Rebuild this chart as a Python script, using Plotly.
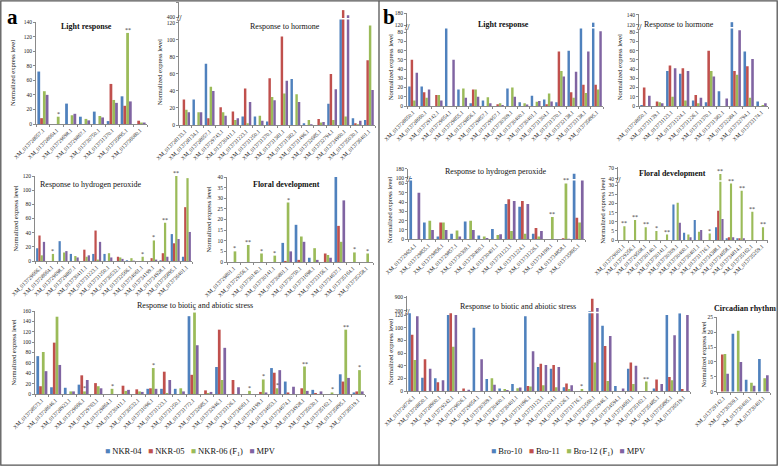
import plotly.graph_objects as go

W, H = 778, 466
def PX(x): return x / W
def PY(y): return 1 - y / H

FONT = "Liberation Serif"
COLORS = ["#4F81BD", "#C0504D", "#9BBB59", "#8064A2"]
A_NAMES = ["NKR-04", "NKR-05", "NKR-06 (F<sub>1</sub>)", "MPV"]
B_NAMES = ["Bro-10", "Bro-11", "Bro-12 (F<sub>1</sub>)", "MPV"]
YTITLE = "Normalized express level"

# ---------------- panel a ----------------
A_LIGHT_GENES = ["XM_013728657.1", "XM_013728664.1", "XM_013729698.1", "XM_013729867.1",
                 "XM_013730750.1", "XM_013731370.1", "XM_013735895.1", "XM_013736080.1"]
A_LIGHT_NKR04 = [72, 0, 28, 10, 17, 4, 38, 0]
A_LIGHT_NKR05 = [8, 0, 0, 0, 0, 55, 25, 4.5]
A_LIGHT_NKR06 = [45, 10, 12, 7, 11, 33, 125, 2]
A_LIGHT_MPV = [40, 0, 14, 5, 9, 29, 31, 2]
A_LIGHT_SIG = ["", "*", "", "", "", "", "**", ""]

A_HORM_GENES = ["XM_013728133.1", "XM_013728134.1", "XM_013728657.1", "XM_013729743.1",
                "XM_013730411.1", "XM_013731223.1", "XM_013731250.1", "XM_013731370.1",
                "XM_013731381.1", "XM_013731382.1", "XM_013731496.1", "XM_013732685.1",
                "XM_013732794.1", "XM_013734960.1", "XM_013735030.1", "XM_013736401.1"]
A_HORM_NKR04 = [0, 30, 72, 0, 0, 10, 10, 4, 0, 54, 2, 0, 25, 130, 8, 6]
A_HORM_NKR05 = [30, 0, 8, 21, 16, 43, 0, 55, 104, 0, 0, 7, 60, 950, 2, 76]
A_HORM_NKR06 = [18, 15, 45, 15, 6, 2, 11, 33, 37, 36, 6, 3, 6, 10, 1, 117]
A_HORM_MPV = [15, 15, 40, 11, 8, 27, 5, 29, 52, 27, 1, 3.5, 42, 540, 5, 41]
A_HORM_SIG = [""] * 16

A_H2O2_GENES = ["XM_013729666.1", "XM_013728664.1", "XM_013729698.1", "XM_013729867.1",
                "XM_013730411.1", "XM_013731223.1", "XM_013731250.1", "XM_013730532.1",
                "XM_013732566.1", "XM_013734061.1", "XM_013734199.1", "XM_013734928.1",
                "XM_013735895.1", "XM_013736401.1"]
A_H2O2_NKR04 = [18, 0, 28, 10, 0, 10, 10, 0, 1, 0, 0, 1, 38, 6]
A_H2O2_NKR05 = [36, 0, 0, 0, 16, 43, 0, 6, 0, 0, 4, 11, 25, 76]
A_H2O2_NKR06 = [8, 10, 12, 7, 6, 2, 11, 5, 4, 6, 29, 54, 120, 117]
A_H2O2_MPV = [27, 0, 14, 5, 8, 27, 5, 3, 0.5, 0, 2, 6, 31, 41]
A_H2O2_SIG = ["", "*", "", "", "", "", "", "", "", "*", "*", "**", "**", ""]

A_FLOR_GENES = ["XM_013729801.1", "XM_013729256.1", "XM_013730140.1", "XM_013730141.1",
                "XM_013730801.1", "XM_013730750.1", "XM_013731698.1", "XM_013733156.1",
                "XM_013734637.1", "XM_013735164.1", "XM_013735258.1"]
A_FLOR_NKR04 = [0, 0, 0, 0, 9, 17.5, 2, 0, 40, 0, 0]
A_FLOR_NKR05 = [0, 0, 0, 0, 0.5, 1, 0, 4, 17, 0, 0]
A_FLOR_NKR06 = [5, 8, 4, 3, 28, 12, 6.5, 3.3, 9.5, 4.5, 4]
A_FLOR_MPV = [0, 0, 0, 0, 5, 9.5, 1, 2, 29, 0, 0]
A_FLOR_SIG = ["*", "**", "*", "*", "*", "", "", "", "", "*", "*"]

A_BIO_GENES = ["XM_013728573.1", "XM_013728646.1", "XM_013728923.1", "XM_013729666.1",
               "XM_013729763.1", "XM_013729864.1", "XM_013730411.1", "XM_013730532.1",
               "XM_013731096.1", "XM_013731223.1", "XM_013731250.1", "XM_013731772.1",
               "XM_013732685.1", "XM_013732946.1", "XM_013733126.1", "XM_013734061.1",
               "XM_013734199.1", "XM_013734653.1", "XM_013734674.1", "XM_013734928.1",
               "XM_013735030.1", "XM_013735162.1", "XM_013735895.1", "XM_013736519.1"]
A_BIO_NKR04 = [73, 13, 12, 18, 0, 0, 0, 0, 10, 10, 10, 150, 0, 52, 0, 0, 0, 50, 24, 0, 8, 0, 38, 3]
A_BIO_NKR05 = [15, 99, 0, 36, 21, 0, 16, 9, 11, 43, 0, 37, 7, 124, 27, 0, 4, 41, 3, 11, 2, 0, 24, 5]
A_BIO_NKR06 = [81, 149, 5, 5, 15, 10, 6, 5, 50, 2, 11, 157, 2, 27, 0, 6, 28, 11, 0, 53, 0, 3, 124, 46]
A_BIO_MPV = [44, 56, 5, 27, 11, 0, 8, 4, 10, 27, 5, 94, 4, 89, 13, 0, 3, 46, 14, 6, 5, 0, 31, 5]
A_BIO_SIG = ["", "", "", "*", "", "*", "", "", "*", "", "", "*", "", "", "", "*",
             "*", "*", "", "**", "", "*", "**", "*"]

# ---------------- panel b ----------------
B_LIGHT_GENES = ["XM_013728650.1", "XM_013728660.1", "XM_013729142.1", "XM_013729654.1",
                 "XM_013729855.1", "XM_013729856.1", "XM_013729857.1", "XM_013729957.1",
                 "XM_013730309.1", "XM_013730400.1", "XM_013730401.1", "XM_013731304.1",
                 "XM_013731370.1", "XM_013732138.1", "XM_013733138.1", "XM_013735895.1"]
B_LIGHT_BRO10 = [21, 21, 0, 100, 18, 3, 6, 0, 19, 4, 11, 7, 4, 60, 96, 133]
B_LIGHT_BRO11 = [50, 15, 12, 0, 0, 18, 0, 2, 0, 0, 0, 2, 59, 15, 23, 23]
B_LIGHT_BRO12 = [6, 9, 12, 0, 19, 18, 9.5, 3, 20, 3, 4.5, 13.5, 38, 9, 14, 18]
B_LIGHT_MPV = [36, 18, 6, 50, 9, 10, 3, 1, 10, 1.5, 5.5, 5, 32, 37, 59, 81]
B_LIGHT_SIG = [""] * 16

B_HORM_GENES = ["XM_013728650.1", "XM_013731139.1", "XM_013731123.1", "XM_013731224.1",
                "XM_013731226.1", "XM_013731370.1", "XM_013731382.1", "XM_013732284.1",
                "XM_013732794.1", "XM_013733174.1"]
B_HORM_BRO10 = [1, 0, 38, 35, 6, 4, 16, 125, 59, 5]
B_HORM_BRO11 = [20, 5, 44, 41, 12, 60, 0, 38, 43, 0]
B_HORM_BRO12 = [0, 4, 10, 6, 3, 38, 0, 34, 9, 1]
B_HORM_MPV = [11, 3, 41, 38, 9, 32, 8, 82, 51, 3]
B_HORM_SIG = [""] * 10

B_H2O2_GENES = ["XM_013729654.1", "XM_013729855.1", "XM_013729856.1", "XM_013729857.1",
                "XM_013730309.1", "XM_013730400.1", "XM_013730401.1", "XM_013731123.1",
                "XM_013731224.1", "XM_013731226.1", "XM_013734199.1", "XM_013734858.1",
                "XM_013735895.1"]
B_H2O2_BRO10 = [100, 18, 3, 6, 19, 4, 11, 38, 35, 6, 0, 0, 137]
B_H2O2_BRO11 = [0, 0, 18, 0, 0, 0, 0, 43, 41, 12, 0, 1, 23]
B_H2O2_BRO12 = [0, 20, 18, 9.5, 20, 3, 4.5, 9, 6, 3, 24, 60, 18]
B_H2O2_MPV = [50, 10, 10, 3, 10, 1.5, 5.5, 41, 38, 9, 0, 0.5, 80]
B_H2O2_SIG = ["", "", "", "", "", "", "", "", "", "", "**", "**", ""]

B_FLOR_GENES = ["XM_013729001.1", "XM_013729256.1", "XM_013729508.1", "XM_013730140.1",
                "XM_013730141.1", "XM_013730309.1", "XM_013730400.1", "XM_013730401.1",
                "XM_013731716.1", "XM_013734388.1", "XM_013734658.1", "XM_013734814.1",
                "XM_013735162.1", "XM_013735259.1"]
B_FLOR_BRO10 = [0, 0, 0, 0, 0, 19.5, 4, 11, 0, 7, 1, 1, 0, 0]
B_FLOR_BRO11 = [0, 0, 0, 0, 0, 0, 0, 0, 0, 16, 1.5, 1, 0, 0]
B_FLOR_BRO12 = [7.5, 11, 7, 5, 3, 20.5, 3, 4.5, 3.5, 54, 31, 27, 15.5, 7]
B_FLOR_MPV = [0, 0, 0, 0, 0, 9.5, 1.5, 5.5, 0, 11.5, 1.5, 1, 0, 0]
B_FLOR_SIG = ["**", "**", "**", "*", "**", "", "", "", "*", "**", "**", "**", "**", "**"]

B_BIO_GENES = ["XM_013728726.1", "XM_013728820.1", "XM_013728900.1", "XM_013729242.1",
               "XM_013729626.1", "XM_013729654.1", "XM_013730309.1", "XM_013730400.1",
               "XM_013730401.1", "XM_013731096.1", "XM_013731123.1", "XM_013731224.1",
               "XM_013731226.1", "XM_013731716.1", "XM_013732560.1", "XM_013732946.1",
               "XM_013734594.1", "XM_013734661.1", "XM_013735162.1", "XM_013735485.1",
               "XM_013735895.1", "XM_013736519.1"]
B_BIO_BRO10 = [127, 21, 20, 120, 0, 100, 19, 4, 11, 118, 38, 35, 6, 0, 190, 103, 8, 35, 0, 4, 120, 123]
B_BIO_BRO11 = [89, 50, 14, 128, 4, 0, 0, 0, 0, 8, 43, 41, 12, 0, 820, 71, 0, 45, 0, 18, 22, 3]
B_BIO_BRO12 = [49, 0, 0, 70, 0, 0, 20, 3, 4.5, 7, 9, 6, 3, 3, 45, 16, 0, 11, 15, 0, 17, 0]
B_BIO_MPV = [118, 35, 17, 120, 2, 50, 10, 1.5, 5.5, 63, 41, 38, 9, 0, 340, 87, 4, 40, 0, 11, 88, 120]
B_BIO_SIG = [""] * 13 + ["*"] + [""] * 4 + ["**"] + [""] * 3

B_CIRC_GENES = ["XM_013729142.1", "XM_013730309.1", "XM_013730400.1", "XM_013730401.1"]
B_CIRC_BRO10 = [0, 19.5, 4, 11]
B_CIRC_BRO11 = [12.5, 0, 0, 0]
B_CIRC_BRO12 = [12.7, 20.5, 3, 4.5]
B_CIRC_MPV = [6, 10, 2, 5.5]
B_CIRC_SIG = [""] * 4

# subplot layout (pixel geometry only)
PANELS = [
    dict(genes=A_LIGHT_GENES, series=[A_LIGHT_NKR04, A_LIGHT_NKR05, A_LIGHT_NKR06, A_LIGHT_MPV],
         sig=A_LIGHT_SIG, names=A_NAMES, xs=(36, 147), low=((124, 22), (0, 140), 20), up=None,
         title="Light response", bold=True, tpos=(86, 27), ylab=13),
    dict(genes=A_HORM_GENES, series=[A_HORM_NKR04, A_HORM_NKR05, A_HORM_NKR06, A_HORM_MPV],
         sig=A_HORM_SIG, names=A_NAMES, xs=(179, 375), low=((125, 19.5), (0, 124), 20),
         up=((18, 2), (320, 1600), [400, 1600]),
         title="Response to hormone", bold=False, tpos=(285, 27), ylab=159),
    dict(genes=A_H2O2_GENES, series=[A_H2O2_NKR04, A_H2O2_NKR05, A_H2O2_NKR06, A_H2O2_MPV],
         sig=A_H2O2_SIG, names=A_NAMES, xs=(35, 192), low=((261, 176), (0, 120), 20), up=None,
         title="Response to hydrogen peroxide", bold=False, tpos=(91, 185), ylab=15),
    dict(genes=A_FLOR_GENES, series=[A_FLOR_NKR04, A_FLOR_NKR05, A_FLOR_NKR06, A_FLOR_MPV],
         sig=A_FLOR_SIG, names=A_NAMES, xs=(227, 373), low=((262, 177), (0, 40), 5), up=None,
         title="Floral development", bold=True, tpos=(286, 185), ylab=208),
    dict(genes=A_BIO_GENES, series=[A_BIO_NKR04, A_BIO_NKR05, A_BIO_NKR06, A_BIO_MPV],
         sig=A_BIO_SIG, names=A_NAMES, xs=(35, 365), low=((394, 311), (0, 160), 20), up=None,
         title="Response to biotic and abiotic stress", bold=False, tpos=(195, 305), ylab=13),
    dict(genes=B_LIGHT_GENES, series=[B_LIGHT_BRO10, B_LIGHT_BRO11, B_LIGHT_BRO12, B_LIGHT_MPV],
         sig=B_LIGHT_SIG, names=B_NAMES, xs=(407, 603), low=((106, 28.5), (0, 84), 10),
         up=((27, 13), (112, 180), [120, 180]),
         title="Light response", bold=True, tpos=(503, 25), ylab=390),
    dict(genes=B_HORM_GENES, series=[B_HORM_BRO10, B_HORM_BRO11, B_HORM_BRO12, B_HORM_MPV],
         sig=B_HORM_SIG, names=B_NAMES, xs=(639, 768), low=((106, 28.5), (0, 84), 10),
         up=((27, 14), (115, 142), [120, 140]),
         title="Response to hormone", bold=False, tpos=(679, 25), ylab=619),
    dict(genes=B_H2O2_GENES, series=[B_H2O2_BRO10, B_H2O2_BRO11, B_H2O2_BRO12, B_H2O2_MPV],
         sig=B_H2O2_SIG, names=B_NAMES, xs=(408, 585), low=((239.3, 180.6), (0, 63), 10),
         up=((179, 168.5), (90, 184), [100, 180]),
         title="Response to hydrogen peroxide", bold=False, tpos=(496, 171), ylab=390),
    dict(genes=B_FLOR_GENES, series=[B_FLOR_BRO10, B_FLOR_BRO11, B_FLOR_BRO12, B_FLOR_MPV],
         sig=B_FLOR_SIG, names=B_NAMES, xs=(618, 768), low=((240, 181.7), (0, 32), 5),
         up=((180.3, 167), (36, 73.5), [40, 70]),
         title="Floral development", bold=True, tpos=(672, 173), ylab=603),
    dict(genes=B_BIO_GENES, series=[B_BIO_BRO10, B_BIO_BRO11, B_BIO_BRO12, B_BIO_MPV],
         sig=B_BIO_SIG, names=B_NAMES, xs=(407, 690), low=((391, 313.2), (0, 123), 20),
         up=((311.8, 296), (150, 966), [200, 900]),
         title="Response to biotic and abiotic stress", bold=False, tpos=(518, 306), ylab=390),
    dict(genes=B_CIRC_GENES, series=[B_CIRC_BRO10, B_CIRC_BRO11, B_CIRC_BRO12, B_CIRC_MPV],
         sig=B_CIRC_SIG, names=B_NAMES, xs=(717, 770), low=((391.7, 317.3), (0, 25), 5), up=None,
         title="Circadian rhythm", bold=True, tpos=(745, 308), ylab=703),
]

AXIS_GREY = "#8a8a8a"
TICKFONT = dict(family=FONT, size=5.5, color="#222")
BARGAP = 0.2
GREEN_OFFSET = (1 - BARGAP) * (-0.5 + 2.5 / 4)

fig = go.Figure()
layout = {}
annotations = []
shapes = []

def nm(base, i):
    return base if i == 1 else f"{base}{i}"

xi = 0
yi = 0
for p in PANELS:
    xi += 1
    yi += 1
    xk = nm("x", xi)
    ylow = nm("y", yi)
    (lb, lt), lrng, ldt = p["low"]
    layout[nm("xaxis", xi)] = dict(
        domain=[PX(p["xs"][0]), PX(p["xs"][1])], anchor=ylow, type="category", automargin=False,
        showline=True, linecolor=AXIS_GREY, linewidth=1, ticks="outside", tickson="boundaries",
        ticklen=2, tickcolor=AXIS_GREY, tickangle=-45,
        tickfont=dict(family=FONT, size=5.5, color="#222"), showgrid=False, fixedrange=True)
    layout[nm("yaxis", yi)] = dict(
        domain=[PY(lb), PY(lt)], anchor=xk, range=list(lrng), dtick=ldt, tick0=0, automargin=False,
        showline=True, linecolor=AXIS_GREY, linewidth=1, ticks="outside", ticklen=2,
        tickcolor=AXIS_GREY, tickfont=TICKFONT, showgrid=False, zeroline=False, fixedrange=True)
    yaxes = [(ylow, lrng)]
    if p["up"]:
        yi += 1
        yup = nm("y", yi)
        (ub, ut), urng, utv = p["up"]
        layout[nm("yaxis", yi)] = dict(
            domain=[PY(ub), PY(ut)], anchor=xk, range=list(urng), tickvals=utv, automargin=False,
            showline=True, linecolor=AXIS_GREY, linewidth=1, ticks="outside", ticklen=2,
            tickcolor=AXIS_GREY, tickfont=TICKFONT, showgrid=False, zeroline=False, fixedrange=True)
        yaxes.append((yup, urng))
        annotations.append(dict(x=PX(p["xs"][0]), y=PY((lt + ub) / 2), xref="paper", yref="paper",
                                text="<b>//</b>", showarrow=False, font=dict(family=FONT, size=8, color="#333"),
                                xanchor="center", yanchor="middle"))
    for yk, _ in yaxes:
        for name, vals, col in zip(p["names"], p["series"], COLORS):
            fig.add_trace(go.Bar(x=p["genes"], y=vals, name=name, marker=dict(color=col, line=dict(width=0)),
                                 xaxis=xk, yaxis=yk, showlegend=False, hoverinfo="skip"))
    # significance marks above the F1 bar
    green = p["series"][2]
    for i, s in enumerate(p["sig"]):
        if not s:
            continue
        v = green[i]
        yref = ylow
        if len(yaxes) > 1 and v > lrng[1]:
            yref = yaxes[1][0]
        annotations.append(dict(x=i + GREEN_OFFSET, y=v, xref=xk, yref=yref, text=s, showarrow=False,
                                font=dict(family=FONT, size=6, color="#333"), yanchor="bottom", yshift=-2))
    # subplot title
    t = f"<b>{p['title']}</b>" if p["bold"] else p["title"]
    annotations.append(dict(x=PX(p["tpos"][0]), y=PY(p["tpos"][1]), xref="paper", yref="paper", text=t,
                            showarrow=False, font=dict(family=FONT, size=8, color="#111"),
                            xanchor="center", yanchor="middle"))
    # y-axis title
    annotations.append(dict(x=PX(p["ylab"]), y=PY((lb + lt) / 2), xref="paper", yref="paper", text=YTITLE,
                            textangle=-90, showarrow=False, font=dict(family=FONT, size=6.5, color="#111"),
                            xanchor="center", yanchor="middle"))

# panel letters
annotations.append(dict(x=PX(5), y=PY(3), xref="paper", yref="paper", text="<b>a</b>", showarrow=False,
                        font=dict(family=FONT, size=21, color="#000"), xanchor="left", yanchor="top"))
annotations.append(dict(x=PX(381), y=PY(3), xref="paper", yref="paper", text="<b>b</b>", showarrow=False,
                        font=dict(family=FONT, size=21, color="#000"), xanchor="left", yanchor="top"))

# legends
def legend_text(names):
    parts = []
    for n, c in zip(names, COLORS):
        parts.append(f"<span style='color:{c}'>■</span> {n}")
    return "&nbsp;&nbsp;&nbsp;".join(parts)

annotations.append(dict(x=PX(190), y=PY(451), xref="paper", yref="paper", text=legend_text(A_NAMES),
                        showarrow=False, font=dict(family=FONT, size=8.5, color="#111"),
                        xanchor="center", yanchor="middle"))
annotations.append(dict(x=PX(568), y=PY(451), xref="paper", yref="paper", text=legend_text(B_NAMES),
                        showarrow=False, font=dict(family=FONT, size=8.5, color="#111"),
                        xanchor="center", yanchor="middle"))

# frame
shapes.append(dict(type="rect", xref="paper", yref="paper", x0=PX(0.8), x1=PX(777.2), y0=PY(465.2), y1=PY(0.8),
                   line=dict(color="#555", width=1.3)))
shapes.append(dict(type="line", xref="paper", yref="paper", x0=PX(379), x1=PX(379), y0=PY(465.2), y1=PY(0.8),
                   line=dict(color="#555", width=1.3)))

fig.update_layout(
    width=W, height=H, margin=dict(l=0, r=0, t=0, b=0, autoexpand=False),
    paper_bgcolor="white", plot_bgcolor="white",
    barmode="group", bargap=BARGAP, bargroupgap=0,
    showlegend=False, annotations=annotations, shapes=shapes,
    font=dict(family=FONT),
    **layout,
)

fig.write_html("out.html", config={"displayModeBar": False, "staticPlot": True},
               post_script="document.body.style.margin='0';document.body.style.overflow='hidden';")
